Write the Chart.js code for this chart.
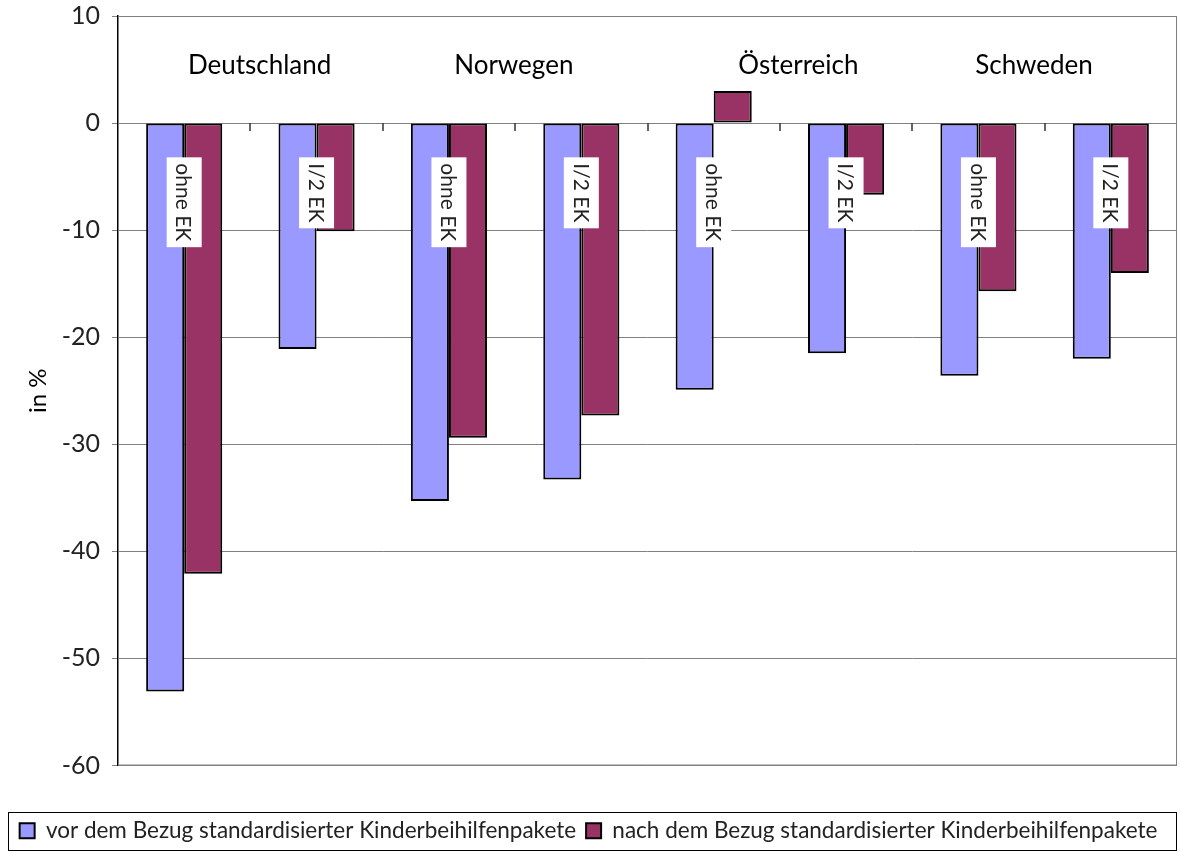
<!DOCTYPE html>
<html>
<head>
<meta charset="utf-8">
<script src="https://cdn.jsdelivr.net/npm/chart.js@4.4.1/dist/chart.umd.min.js"></script>
<style>
  html, body { margin: 0; padding: 0; background: #fff; }
  #wrap { width: 1180px; height: 852px; }
</style>
</head>
<body>
<div id="wrap"><canvas id="chartCanvas" width="1180" height="852"></canvas></div>
<script>
// bar labels (one per category, drawn inside the bars)
const subLabels = ["ohne EK", "I/2 EK", "ohne EK", "I/2 EK", "ohne EK", "I/2 EK", "ohne EK", "I/2 EK"];
const countries = ["Deutschland", "Norwegen", "Österreich", "Schweden"];

const vorValues = [-53.1, -21.1, -35.3, -33.3, -24.9, -21.5, -23.6, -22.0];
const nachValues = [-42.1, -10.1, -29.4, -27.3, 3.0, -6.7, -15.7, -14.0];

const yTicks = [10, 0, -10, -20, -30, -40, -50, -60];

const FONT = "Lato, 'Open Sans', sans-serif";

// where the country names sit, in category index units
const countryAt = [0.57, 2.49, 4.64, 6.42];

const decorations = {
    id: "decorations",
    beforeDatasetsDraw(chart) {
        const { ctx, chartArea } = chart;
        const x = chart.scales.x;
        const y = chart.scales.y;
        const step = x.getPixelForValue(1) - x.getPixelForValue(0);
        ctx.save();
        ctx.strokeStyle = "#808080";
        ctx.lineWidth = 1;
        ctx.strokeRect(chartArea.left + 0.5, chartArea.top + 0.5, chartArea.right - chartArea.left - 1, chartArea.bottom - chartArea.top - 1);
        // category tick marks hanging from the zero line
        const y0 = Math.round(y.getPixelForValue(0));
        ctx.strokeStyle = "#333";
        ctx.lineWidth = 1.5;
        ctx.beginPath();
        for (let i = 1; i < chart.data.labels.length; i++) {
            const px = Math.round(x.getPixelForValue(i) - step / 2);
            ctx.moveTo(px, y0);
            ctx.lineTo(px, y0 + 8);
        }
        ctx.stroke();
        ctx.restore();
    },
    afterDatasetsDraw(chart) {
        const { ctx } = chart;
        const x = chart.scales.x;
        const y = chart.scales.y;
        const step = x.getPixelForValue(1) - x.getPixelForValue(0);

        // rotated labels with white background
        ctx.save();
        ctx.font = "21px " + FONT;
        ctx.textBaseline = "middle";
        chart.data.labels.forEach((lab, i) => {
            const cx = x.getPixelForValue(i);
            const top = y.getPixelForValue(-3.2);
            const w = ctx.measureText(lab).width;
            ctx.save();
            ctx.translate(cx, top);
            ctx.rotate(Math.PI / 2);
            ctx.fillStyle = "#fff";
            ctx.fillRect(0, -17.5, w + 12, 35);
            ctx.fillStyle = "#222";
            ctx.fillText(lab, 6, 1);
            ctx.restore();
        });
        ctx.restore();

        // country names
        ctx.save();
        ctx.font = "26px " + FONT;
        ctx.fillStyle = "#000";
        ctx.textAlign = "center";
        ctx.textBaseline = "middle";
        countries.forEach((c, i) => {
            const px = x.getPixelForValue(0) + countryAt[i] * step;
            ctx.fillText(c, px, y.getPixelForValue(5.4));
        });
        ctx.restore();
    },
    afterDraw(chart) {
        const { ctx, legend } = chart;
        ctx.save();
        ctx.strokeStyle = "#000";
        ctx.lineWidth = 1;
        ctx.strokeRect(8.5, legend.bottom - 39.5, 1168, 38);
        ctx.restore();
    },
};

new Chart(document.getElementById("chartCanvas").getContext("2d"), {
    type: "bar",
    data: {
        labels: subLabels,
        datasets: [
            {
                label: "vor dem Bezug standardisierter Kinderbeihilfenpakete",
                data: vorValues,
                backgroundColor: "#9999FF",
                borderColor: "#000",
                borderWidth: 2,
                borderSkipped: false,
            },
            {
                label: "nach dem Bezug standardisierter Kinderbeihilfenpakete",
                data: nachValues,
                backgroundColor: "#993366",
                borderColor: "#000",
                borderWidth: 2,
                borderSkipped: false,
            },
        ],
    },
    options: {
        responsive: false,
        animation: false,
        layout: { padding: { left: 0, right: 3, top: 16, bottom: 0 } },
        categoryPercentage: 0.575,
        barPercentage: 1,
        scales: {
            x: {
                position: { y: 0 },
                afterFit: (s) => { s.height = 0; },
                ticks: { display: false },
                grid: { display: false },
                border: { display: false },
            },
            y: {
                min: -60,
                max: 10,
                afterFit: (s) => { s.width = 118; s.paddingTop = 0; s.paddingBottom = 0; },
                afterBuildTicks: (s) => { s.ticks = yTicks.map((v) => ({ value: v })); },
                ticks: {
                    font: { family: FONT, size: 25 },
                    color: "#222",
                    padding: 12,
                },
                grid: {
                    color: "#808080",
                    lineWidth: 1,
                    tickLength: 6,
                    tickColor: "#808080",
                },
                border: { display: true, color: "#000", width: 1.5 },
                title: {
                    display: true,
                    text: "in %",
                    font: { family: FONT, size: 24 },
                    color: "#000",
                    padding: { top: 24, bottom: 0 },
                },
            },
        },
        plugins: {
            legend: {
                position: "bottom",
                title: { display: true, text: "", font: { size: 10 }, padding: { top: 32, bottom: 0 } },
                labels: {
                    font: { family: FONT, size: 22.5 },
                    color: "#222",
                    boxWidth: 15,
                    boxHeight: 15,
                    padding: 10,
                },
            },
            tooltip: { enabled: false },
        },
    },
    plugins: [decorations],
});
</script>
</body>
</html>
